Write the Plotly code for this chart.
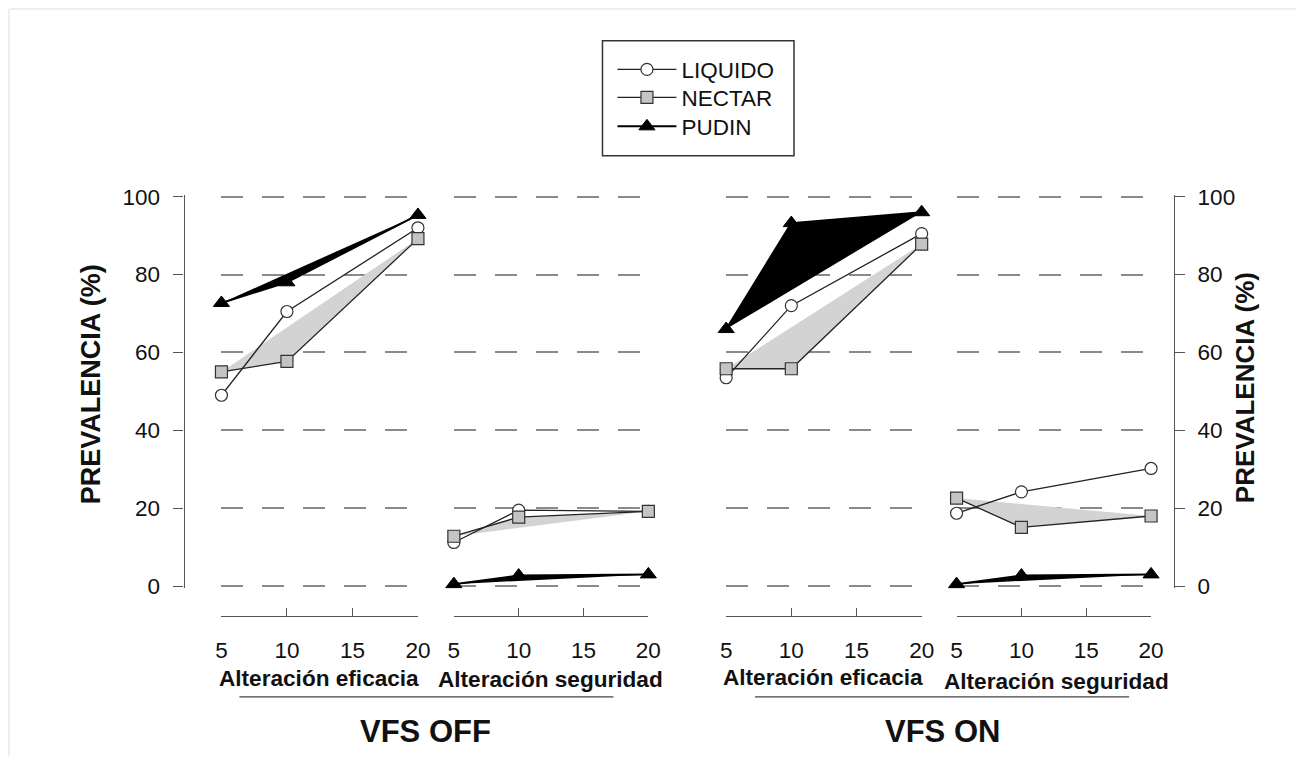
import plotly.graph_objects as go

W, H = 1309, 767

# ---- data ----
x_vals = [5, 10, 20]
series_names = ["LIQUIDO", "NECTAR", "PUDIN"]

off_eficacia_liquido = [49, 70.5, 92]
off_eficacia_nectar = [55, 57.7, 89.2]
off_eficacia_pudin = [72.7, 78, 95.3]

off_seguridad_liquido = [11.2, 19.5, 19.2]
off_seguridad_nectar = [12.8, 17.7, 19.2]
off_seguridad_pudin = [0.5, 2.7, 3]

on_eficacia_liquido = [53.5, 72, 90.5]
on_eficacia_nectar = [55.8, 55.8, 87.8]
on_eficacia_pudin = [66, 93.2, 96]

on_seguridad_liquido = [18.7, 24.2, 30.2]
on_seguridad_nectar = [22.6, 15.1, 18]
on_seguridad_pudin = [0.5, 2.7, 3]

x_ticks = [5, 10, 15, 20]
y_ticks = [0, 20, 40, 60, 80, 100]
panel_titles = ["Alteración eficacia", "Alteración seguridad", "Alteración eficacia", "Alteración seguridad"]
group_titles = ["VFS OFF", "VFS ON"]
y_title = "PREVALENCIA (%)"

FONT = "Liberation Sans, Arial, sans-serif"

# mapping from reference-picture pixels to page pixels (capture offset/scale)
AX, SX = 4.0, 0.988
AY, SY = 10.1, 0.974


def px(x):
    return ((x - AX) / SX) / W


def py(y):
    return 1 - ((y - AY) / SY) / H


panels = [
    ("x", "y", off_eficacia_liquido, off_eficacia_nectar, off_eficacia_pudin),
    ("x2", "y", off_seguridad_liquido, off_seguridad_nectar, off_seguridad_pudin),
    ("x3", "y2", on_eficacia_liquido, on_eficacia_nectar, on_eficacia_pudin),
    ("x4", "y2", on_seguridad_liquido, on_seguridad_nectar, on_seguridad_pudin),
]
legend_ids = ["legend", "legend2", "legend3"]

fig = go.Figure()

for i, (xa, ya, liq, nec, pud) in enumerate(panels):
    # shaded polygons
    fig.add_trace(go.Scatter(x=x_vals, y=nec, xaxis=xa, yaxis=ya, mode="lines",
                             fill="toself", fillcolor="#d3d3d3", line=dict(width=0),
                             showlegend=False, hoverinfo="skip"))
    fig.add_trace(go.Scatter(x=x_vals, y=pud, xaxis=xa, yaxis=ya, mode="lines",
                             fill="toself", fillcolor="#000000", line=dict(width=0),
                             showlegend=False, hoverinfo="skip"))
    first = i == 0
    fig.add_trace(go.Scatter(x=x_vals, y=liq, xaxis=xa, yaxis=ya, mode="lines+markers",
                             name=series_names[0], showlegend=first, legend=legend_ids[0],
                             cliponaxis=False,
                             line=dict(color="#222222", width=1.3),
                             marker=dict(symbol="circle", size=12, color="white",
                                         line=dict(color="#333333", width=1.2))))
    fig.add_trace(go.Scatter(x=x_vals, y=nec, xaxis=xa, yaxis=ya, mode="lines+markers",
                             name=series_names[1], showlegend=first, legend=legend_ids[1],
                             cliponaxis=False,
                             line=dict(color="#222222", width=1.3),
                             marker=dict(symbol="square", size=12, color="#c4c4c4",
                                         line=dict(color="#333333", width=1.2))))
    fig.add_trace(go.Scatter(x=x_vals, y=pud, xaxis=xa, yaxis=ya, mode="lines+markers",
                             name=series_names[2], showlegend=first, legend=legend_ids[2],
                             cliponaxis=False,
                             line=dict(color="#000000", width=2),
                             marker=dict(symbol="triangle-up", size=14, color="#000000",
                                         line=dict(color="#000000", width=1))))

TICK_SIZE = 22.5
x_domains = [(220, 417), (453, 648), (726, 922), (957, 1152)]
xaxis_common = dict(range=[5, 20], tickvals=x_ticks, ticks="inside", ticklen=8,
                    tickcolor="#555555", tickwidth=1.2, showline=True, linecolor="#555555",
                    linewidth=1.2, showgrid=False, zeroline=False, anchor="free",
                    position=py(617), tickfont=dict(family=FONT, size=TICK_SIZE, color="#111111"),
                    ticklabelstandoff=14)
layout_axes = {}
for i, (a, b) in enumerate(x_domains):
    name = "xaxis" if i == 0 else f"xaxis{i+1}"
    layout_axes[name] = dict(domain=[px(a), px(b)], **xaxis_common)

# y: 0 -> 587px, 100 -> 197px (reference pixels); range padded slightly so edge gridlines show
pad = 0.5
ppu = (587 - 197) / 100.0
yaxis_common = dict(range=[-pad, 100 + pad], tickvals=y_ticks, ticks="outside", ticklen=10,
                    tickcolor="#555555", tickwidth=1.2, showline=True, linecolor="#555555",
                    linewidth=1.2, showgrid=True, gridcolor="#8a8a8a", gridwidth=2,
                    griddash="22px,19px", zeroline=False, anchor="free",
                    domain=[py(587 + pad * ppu), py(197 - pad * ppu)],
                    tickfont=dict(family=FONT, size=TICK_SIZE, color="#111111"))
layout_axes["yaxis"] = dict(position=px(182), side="left", ticklabelstandoff=9, **yaxis_common)
layout_axes["yaxis2"] = dict(position=px(1175), side="right", ticklabelstandoff=8, **yaxis_common)

annotations = []
# y titles
annotations.append(dict(x=px(90), y=py(385), xref="paper", yref="paper", text=f"<b>{y_title}</b>",
                        textangle=-90, showarrow=False, font=dict(family=FONT, size=27, color="#111111"),
                        xanchor="center", yanchor="middle"))
annotations.append(dict(x=px(1247), y=py(388), xref="paper", yref="paper", text=f"<b>{y_title}</b>",
                        textangle=-90, showarrow=False, font=dict(family=FONT, size=26, color="#111111"),
                        xanchor="center", yanchor="middle"))
sub_pos = [(318, 680), (550, 681), (823, 679), (1057, 683)]
for t, (cx, cy) in zip(panel_titles, sub_pos):
    annotations.append(dict(x=px(cx), y=py(cy), xref="paper", yref="paper", text=f"<b>{t}</b>",
                            showarrow=False, font=dict(family=FONT, size=22.6, color="#111111"),
                            xanchor="center", yanchor="middle"))
for t, (cx, cy) in zip(group_titles, [(425, 733), (943, 733)]):
    annotations.append(dict(x=px(cx), y=py(cy), xref="paper", yref="paper", text=f"<b>{t}</b>",
                            showarrow=False, font=dict(family=FONT, size=31, color="#111111"),
                            xanchor="center", yanchor="middle"))

shapes = [
    dict(type="line", xref="paper", yref="paper", x0=px(238), x1=px(613), y0=py(698), y1=py(698),
         line=dict(color="#444444", width=1.2)),
    dict(type="line", xref="paper", yref="paper", x0=px(755), x1=px(1130), y0=py(698), y1=py(698),
         line=dict(color="#444444", width=1.2)),
    # legend frame
    dict(type="rect", xref="paper", yref="paper", x0=px(602), x1=px(794), y0=py(156), y1=py(41),
         line=dict(color="#333333", width=1.5), fillcolor="rgba(0,0,0,0)"),
    # faint page frame shadow
    dict(type="line", xref="paper", yref="paper", x0=px(8), x1=1, y0=py(9), y1=py(9),
         line=dict(color="#eeeeee", width=2)),
    dict(type="line", xref="paper", yref="paper", x0=px(7), x1=px(7), y0=py(9), y1=0,
         line=dict(color="#eeeeee", width=2)),
]

legend_common = dict(xanchor="left", yanchor="middle", borderwidth=0, bgcolor="rgba(0,0,0,0)",
                     font=dict(family=FONT, size=22.5, color="#111111"), itemwidth=59)
legends = {}
for lid, row_y in zip(legend_ids, [70, 98, 127]):
    legends[lid] = dict(x=px(612), y=py(row_y), **legend_common)

fig.update_layout(
    autosize=True,
    margin=dict(l=0, r=0, t=0, b=0),
    paper_bgcolor="white", plot_bgcolor="white",
    showlegend=True,
    annotations=annotations,
    shapes=shapes,
    **legends,
    **layout_axes,
)

fig.write_html(
    "out.html",
    default_width="100%",
    default_height="100vh",
    config={"displayModeBar": False, "responsive": True},
    post_script=(
        "document.documentElement.style.margin='0';"
        "document.body.style.margin='0';document.body.style.padding='0';"
        "document.body.style.overflow='hidden';"
        "var gd=document.getElementById('{plot_id}');"
        "Plotly.Plots.resize(gd);"
    ),
)
